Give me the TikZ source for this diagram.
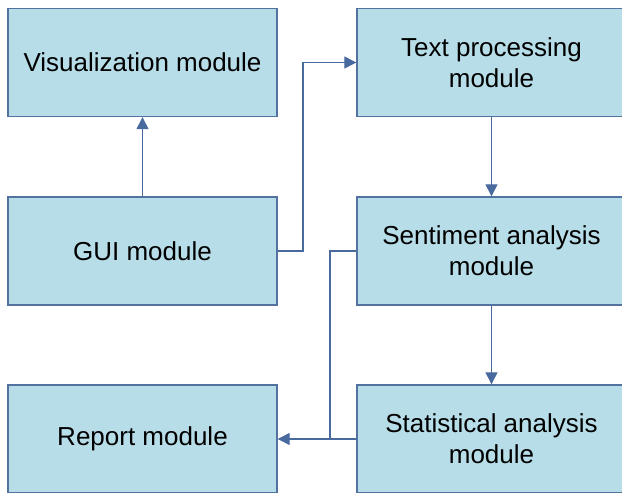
\documentclass[tikz,border=0pt]{standalone}
\usepackage{fontspec}
\setmainfont{Liberation Sans}
\usetikzlibrary{arrows.meta}
\definecolor{boxfill}{RGB}{183,221,232}
\definecolor{boxline}{RGB}{84,114,160}
\definecolor{conn}{RGB}{72,106,158}
\begin{document}
\begin{tikzpicture}[x=1pt,y=-1pt,
  modbox/.style={draw=boxline,fill=boxfill,line width=1.4pt,minimum width=269pt,minimum height=108pt,
    inner sep=0pt,align=center,font=\fontsize{26}{31}\selectfont,text=black},
  link/.style={draw=conn,line width=1.3pt},
  arr/.style={link,-{Triangle[length=12pt,width=12pt]}}]
\useasboundingbox (0,0) rectangle (622,493);
\clip (0,0) rectangle (622,493);
\node[modbox] (vis) at (142.5,62.5) {Visualization module};
\node[modbox] (txt) at (491.5,62.5) {Text processing\\module};
\node[modbox] (gui) at (142.5,251) {GUI module};
\node[modbox] (sen) at (491.5,251) {Sentiment analysis\\module};
\node[modbox] (rep) at (142.5,439) {Report module};
\node[modbox] (sta) at (491.5,439) {Statistical analysis\\module};
\coordinate (j) at (330,439);
\draw[arr] (gui.north) -- (vis.south);
\draw[arr] (gui.east) -- (303,251) |- (txt.west);
\draw[arr] (txt.south) -- (sen.north);
\draw[arr] (sen.south) -- (sta.north);
\draw[arr] (sen.west) -| (j) -- (rep.east);
\draw[link] (sta.west) -- (j);
\end{tikzpicture}
\end{document}
